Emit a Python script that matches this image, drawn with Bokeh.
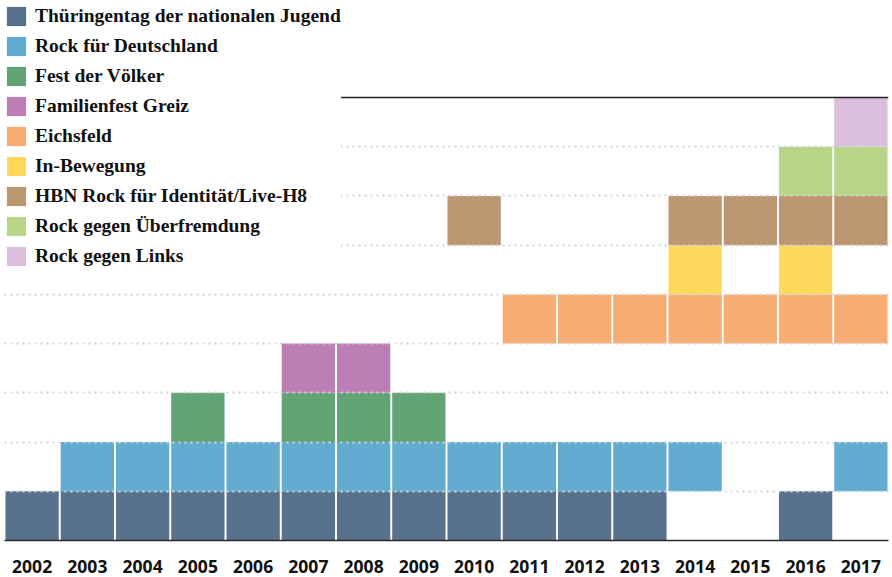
from bokeh.plotting import figure
from bokeh.models import (ColumnDataSource, FactorRange, Range1d, FixedTicker,
                          Legend, LegendItem, Span)
from bokeh.embed import file_html
from bokeh.resources import INLINE

# ---------------- data ----------------
years = [str(y) for y in range(2002, 2018)]

categories = [
    "Thüringentag der nationalen Jugend",
    "Rock für Deutschland",
    "Fest der Völker",
    "Familienfest Greiz",
    "Eichsfeld",
    "In-Bewegung",
    "HBN Rock für Identität/Live-H8",
    "Rock gegen Überfremdung",
    "Rock gegen Links",
]

colors = [
    "#58728e", "#62acd1", "#63a475", "#bd7db5", "#f7ad72",
    "#fed95b", "#bd9672", "#b8d486", "#dbc0de",
]

thueringentag = [2002, 2003, 2004, 2005, 2006, 2007, 2008, 2009, 2010, 2011, 2012, 2013, 2016]
rock_fuer_deutschland = [2003, 2004, 2005, 2006, 2007, 2008, 2009, 2010, 2011, 2012, 2013, 2014, 2017]
fest_der_voelker = [2005, 2007, 2008, 2009]
familienfest_greiz = [2007, 2008]
eichsfeld = [2011, 2012, 2013, 2014, 2015, 2016, 2017]
in_bewegung = [2014, 2016]
hbn_rock = [2010, 2014, 2015, 2016, 2017]
rock_gegen_ueberfremdung = [2016, 2017]
rock_gegen_links = [2017]

events = [thueringentag, rock_fuer_deutschland, fest_der_voelker, familienfest_greiz,
          eichsfeld, in_bewegung, hbn_rock, rock_gegen_ueberfremdung, rock_gegen_links]

# ---------------- figure ----------------
n_rows = len(categories)
row_px = 443 / 9.0
frame_h = 536
p = figure(width=892, height=577, output_backend="svg", toolbar_location=None,
           x_range=FactorRange(*years), y_range=Range1d(0, frame_h / row_px),
           min_border_left=4, min_border_right=4, min_border_top=4, min_border_bottom=37)
p.outline_line_color = None
p.background_fill_color = "white"
p.border_fill_color = "white"

items = []
for i, (cat, col, yrs) in enumerate(zip(categories, colors, events)):
    src = ColumnDataSource(dict(x=[str(y) for y in yrs], y=[i + 0.5] * len(yrs)))
    r = p.rect(x="x", y="y", width=0.965, height=1, source=src,
               fill_color=col, line_color=None)
    items.append(LegendItem(label=cat, renderers=[r]))

# grid
p.xgrid.visible = False
p.ygrid.ticker = FixedTicker(ticks=list(range(1, n_rows)))
p.ygrid.grid_line_color = "#cfd3e3"
p.ygrid.grid_line_width = 2
p.ygrid.grid_line_dash = "2 4"
p.ygrid.level = "guide"

# axes
p.yaxis.visible = False
xa = p.xaxis[0]
xa.axis_line_color = "#2a2a2a"
xa.axis_line_width = 1.5
xa.major_tick_line_color = None
xa.minor_tick_line_color = None
xa.major_tick_out = 0
xa.major_tick_in = 0
xa.major_label_standoff = 19
xa.major_label_text_font = "Open Sans"
xa.major_label_text_font_style = "bold"
xa.major_label_text_font_size = "17.5px"
xa.major_label_text_color = "#111111"

# top rule
top = Span(location=n_rows, dimension="width", line_color="#222222", line_width=1.5)
top.level = "guide"
p.add_layout(top)

legend = Legend(items=items, location="top_left", orientation="vertical")
legend.margin = 0
legend.padding = 0
legend.spacing = 6
legend.glyph_width = 24
legend.glyph_height = 24
legend.label_height = 20
legend.label_standoff = 7
legend.border_line_alpha = 0
legend.background_fill_color = "white"
legend.background_fill_alpha = 1.0
legend.label_text_font = "Liberation Serif"
legend.label_text_font_style = "bold"
legend.label_text_font_size = "19.5px"
legend.label_text_color = "#111111"
p.add_layout(legend)

open("out.html", "w").write(file_html(p, INLINE))
